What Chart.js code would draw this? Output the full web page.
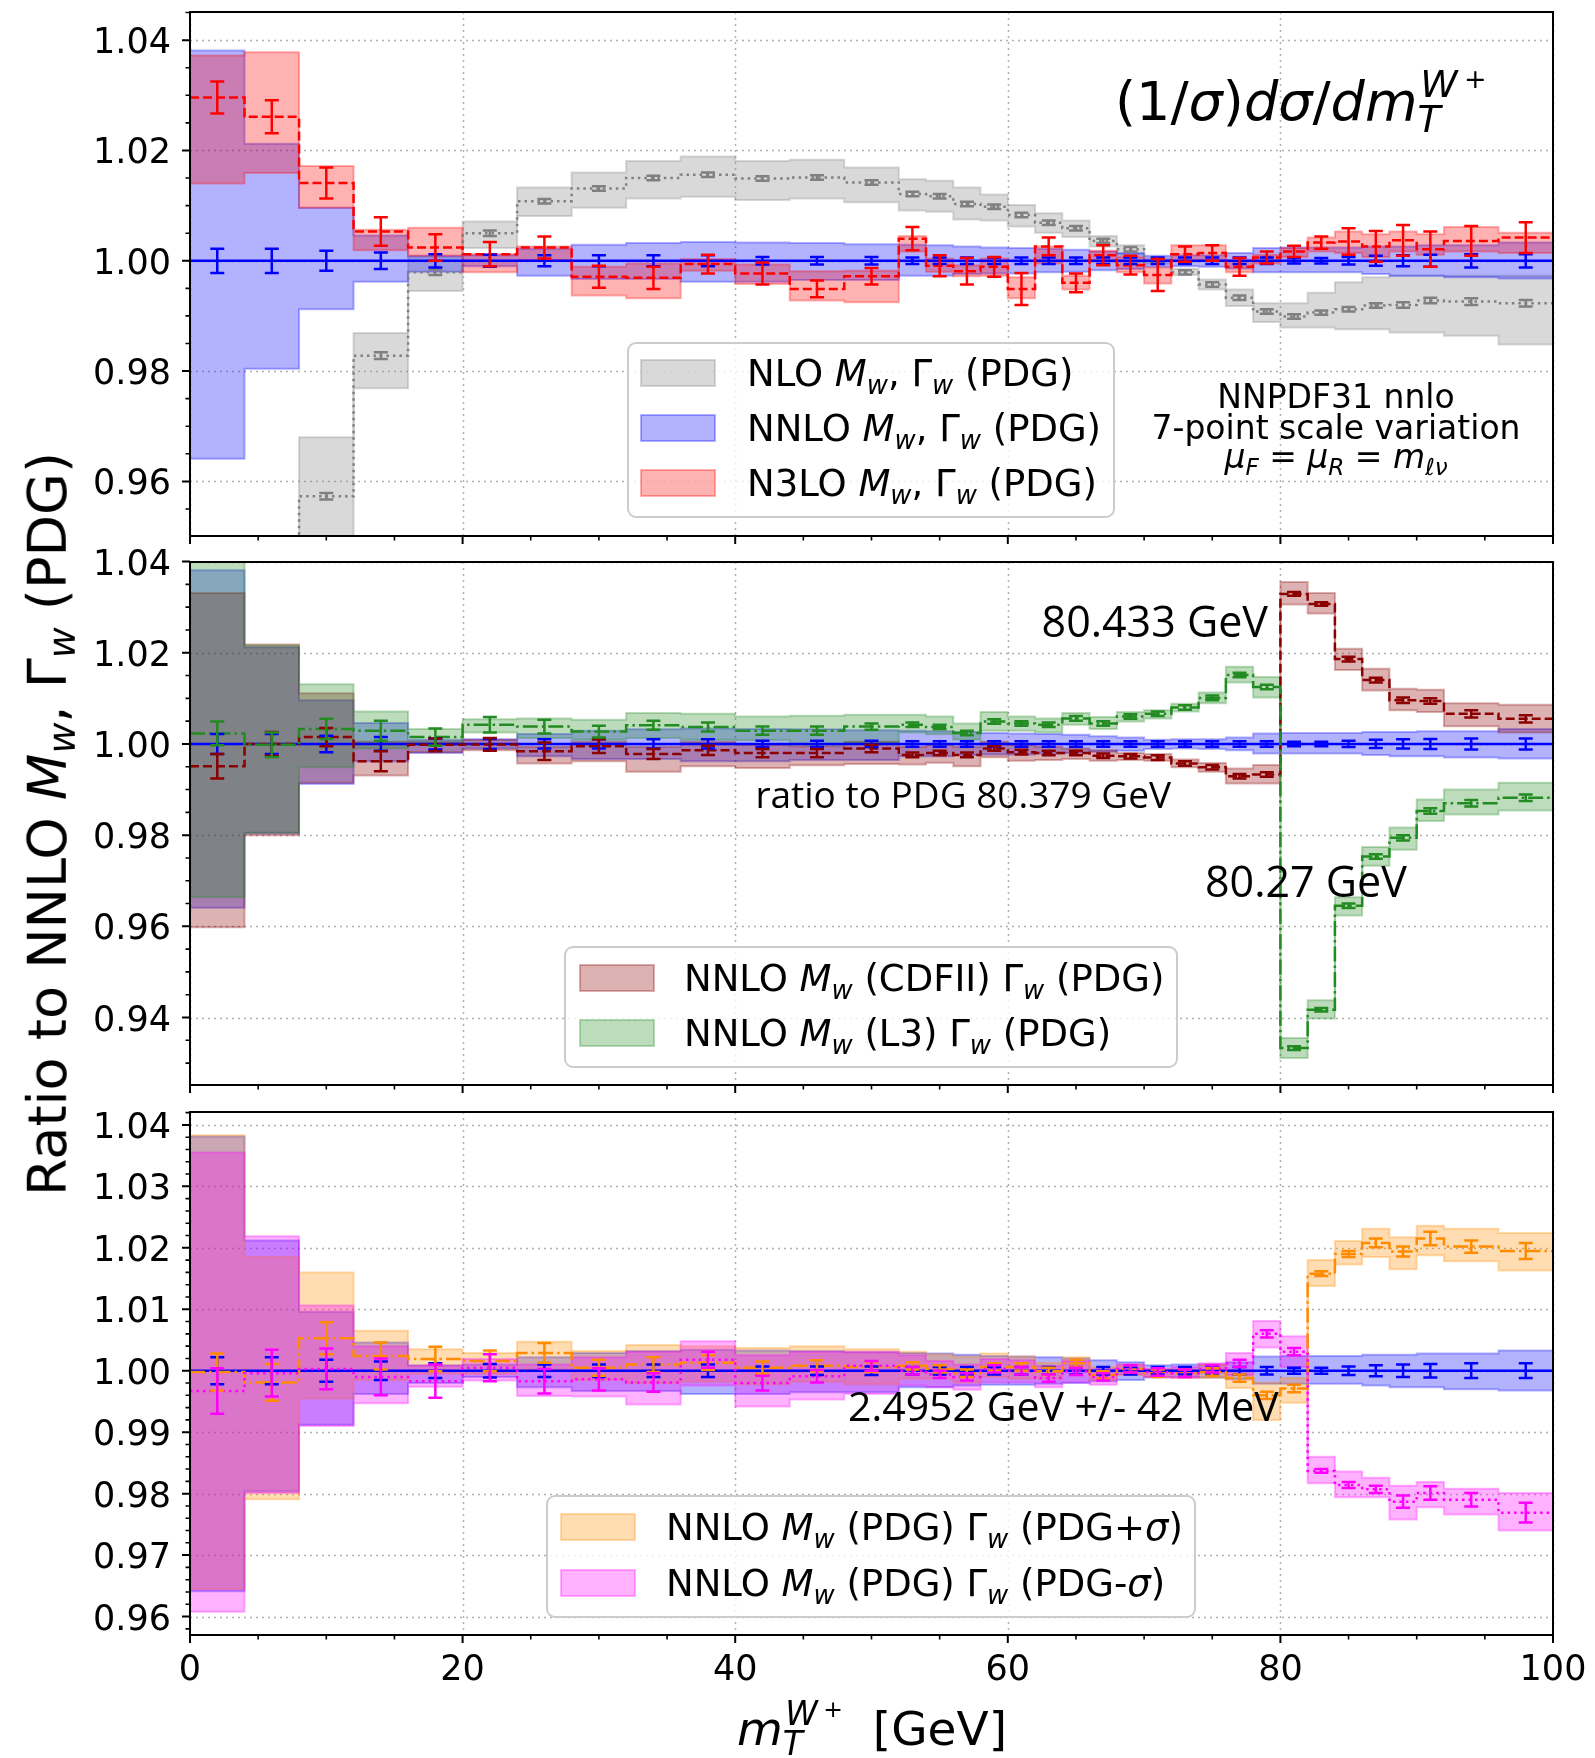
<!DOCTYPE html>
<html>
<head>
<meta charset="utf-8">
<script src="https://cdn.jsdelivr.net/npm/chart.js@4.4.1/dist/chart.umd.min.js"></script>
<style>
  body { margin: 0; background: #fff; }
  #wrap { position: relative; width: 1595px; height: 1758px; }
  #wrap canvas { position: absolute; left: 0; }
  #ytitle {
    position: absolute; left: 50px; top: 824px;
    transform: translate(-50%, -50%) rotate(-90deg);
    font-family: "DejaVu Sans"; font-size: 54px; white-space: nowrap; color: #000;
  }
  #ytitle sub { font-size: 0.7em; vertical-align: -0.25em; font-style: italic; }
</style>
</head>
<body>
<div id="wrap">
  <canvas id="c1" width="1595" height="560" style="top:0px"></canvas>
  <canvas id="c2" width="1595" height="560" style="top:548px"></canvas>
  <canvas id="c3" width="1595" height="660" style="top:1098px"></canvas>
  <div id="ytitle">Ratio to NNLO <i>M</i><sub>w</sub>, Γ<sub>w</sub> (PDG)</div>
</div>
<script>
// bin edges of the m_T histogram (GeV)
const binEdges = [0,4,8,12,16,20,24,28,32,36,40,44,48,52,54,56,58,60,62,64,66,68,70,72,74,76,78,80,82,84,86,88,90,92,96,100];

// tick labels
const xTickLabels = ['0','20','40','60','80','100'];
const yTicksTop = ['0.96','0.98','1.00','1.02','1.04'];
const yTicksMid = ['0.94','0.96','0.98','1.00','1.02','1.04'];
const yTicksBot = ['0.96','0.97','0.98','0.99','1.00','1.01','1.02','1.03','1.04'];

// NNLO M_w, G_w (PDG) - the reference, shown in every panel
const nnloVal = new Array(35).fill(1.0);
const nnloHi = [1.0381,1.0212,1.0096,1.0046,1.0009,1.0010,1.0022,1.0029,1.0032,1.0034,1.0033,1.0032,1.0030,
  1.0029,1.0028,1.0026,1.0024,1.0023,1.0022,1.0020,1.0017,1.0014,1.0009,1.0010,1.0010,1.0014,1.0023,1.0024,1.0024,1.0024,1.0026,1.0026,1.0028,
  1.0028,1.0033];
const nnloLo = [0.9641,0.9804,0.9912,0.9962,0.9980,0.9990,0.9973,0.9967,0.9967,0.9962,0.9962,0.9965,0.9965,
  0.9973,0.9973,0.9976,0.9977,0.9977,0.9979,0.9980,0.9983,0.9985,0.9989,0.9990,0.9989,0.9986,0.9979,0.9979,0.9979,0.9979,0.9976,0.9973,0.9973,
  0.9970,0.9968];
const nnloErr = [0.0022,0.0022,0.0018,0.0015,0.0012,0.0011,0.0010,0.0010,0.0010,0.0010,0.0007,0.0007,0.0007,
  0.0006,0.0006,0.0006,0.0006,0.0006,0.0006,0.0006,0.0006,0.0006,0.0006,0.0006,0.0006,0.0006,0.0006,0.0005,0.0005,0.0007,0.0009,0.0010,0.0011,
  0.0012,0.0012];

// top panel: NLO
const nloVal = [0.910,0.935,0.9573,0.9828,0.9979,1.0050,1.0108,1.0131,1.0150,1.0156,1.0149,1.0151,1.0142,
  1.0121,1.0117,1.0103,1.0098,1.0083,1.0069,1.0059,1.0036,1.0021,0.9999,0.9979,0.9957,0.9933,0.9908,0.9899,0.9906,0.9912,0.9919,0.9920,0.9928,
  0.9926,0.9923];
const nloHi = [0.925,0.945,0.968,0.9869,1.0007,1.0071,1.0133,1.0160,1.0181,1.0189,1.0181,1.0183,1.0169,
  1.0148,1.0145,1.0133,1.0120,1.0101,1.0086,1.0073,1.0045,1.0028,1.0004,0.9985,0.9966,0.9948,0.9923,0.9923,0.9942,0.9961,0.9970,0.9973,0.9973,
  0.9973,0.9973];
const nloLo = [0.895,0.925,0.940,0.9769,0.9945,1.0023,1.0081,1.0096,1.0113,1.0116,1.0110,1.0113,1.0106,
  1.0091,1.0089,1.0075,1.0073,1.0062,1.0051,1.0043,1.0026,1.0011,0.9994,0.9974,0.9948,0.9918,0.9889,0.9879,0.9879,0.9876,0.9876,0.9870,0.9870,
  0.9864,0.9848];
const nloErr = [0.0005,0.0005,0.0006,0.0006,0.0005,0.0005,0.0004,0.0004,0.0004,0.0004,0.0004,0.0004,0.0004,
  0.0004,0.0004,0.0004,0.0004,0.0004,0.0004,0.0004,0.0004,0.0004,0.0004,0.0004,0.0004,0.0004,0.0004,0.0004,0.0004,0.0004,0.0004,0.0005,0.0005,
  0.0006,0.0006];

// top panel: N3LO
const n3loVal = [1.0296,1.0261,1.0141,1.0053,1.0024,1.0012,1.0024,0.9971,0.9969,0.9994,0.9977,0.9949,0.9972,
  1.0040,0.9991,0.9981,0.9989,0.9949,1.0026,0.9960,1.0010,0.9992,0.9974,1.0012,1.0014,0.9989,1.0006,1.0017,1.0033,1.0035,1.0026,1.0037,1.0021,
  1.0036,1.0042];
const n3loHi = [1.0372,1.0378,1.0172,1.0056,1.0060,1.0012,1.0026,0.9989,0.9995,1.0003,0.9993,0.9981,0.9982,
  1.0045,1.0004,0.9992,1.0004,0.9970,1.0026,0.9973,1.0018,1.0007,0.9988,1.0028,1.0028,1.0001,1.0011,1.0023,1.0042,1.0053,1.0048,1.0053,1.0048,
  1.0061,1.0051];
const n3loLo = [1.0140,1.0159,1.0096,1.0019,1.0009,0.9979,1.0001,0.9937,0.9932,0.9982,0.9958,0.9928,0.9925,
  1.0017,0.9980,0.9972,0.9973,0.9932,0.9995,0.9948,0.9998,0.9979,0.9959,0.9999,1.0001,0.9979,0.9995,1.0007,1.0017,1.0014,1.0007,1.0017,1.0011,
  1.0017,1.0014];
const n3loErr = [0.0029,0.0030,0.0028,0.0026,0.0024,0.0022,0.0020,0.0020,0.0020,0.0017,0.0020,0.0015,0.0015,
  0.0021,0.0019,0.0024,0.0018,0.0029,0.0016,0.0017,0.0018,0.0017,0.0029,0.0014,0.0014,0.0016,0.0011,0.0010,0.0011,0.0024,0.0028,0.0028,0.0032,
  0.0027,0.0028];

// middle panel: M_w (CDFII)
const cdfVal = [0.9951,1.0000,1.0015,0.9962,0.9998,0.9999,0.9984,0.9995,0.9978,0.9986,0.9980,0.9980,0.9990,
  0.9976,0.9980,0.9976,0.9990,0.9982,0.9980,0.9980,0.9974,0.9973,0.9970,0.9957,0.9949,0.9929,0.9933,1.0329,1.0307,1.0186,1.0140,1.0096,1.0094,
  1.0066,1.0055];
const cdfHi = [1.0331,1.0218,1.0111,1.0005,1.0005,1.0009,0.9994,1.0005,0.9994,1.0005,0.9998,0.9995,1.0005,
  0.9994,0.9998,0.9994,1.0005,0.9998,0.9994,0.9990,0.9986,0.9980,0.9978,0.9966,0.9958,0.9946,0.9954,1.0355,1.0331,1.0209,1.0165,1.0121,1.0119,
  1.0089,1.0086];
const cdfLo = [0.9598,0.9800,0.9915,0.9931,0.9982,0.9986,0.9957,0.9962,0.9939,0.9951,0.9947,0.9953,0.9956,
  0.9955,0.9959,0.9951,0.9971,0.9963,0.9965,0.9967,0.9963,0.9965,0.9963,0.9949,0.9939,0.9913,0.9913,1.0306,1.0286,1.0162,1.0117,1.0074,1.0070,
  1.0039,1.0025];
const cdfErr = [0.0027,0.0026,0.0020,0.0022,0.0014,0.0014,0.0019,0.0015,0.0011,0.0010,0.0009,0.0009,0.0008,
  0.0005,0.0005,0.0005,0.0005,0.0005,0.0005,0.0005,0.0005,0.0005,0.0005,0.0005,0.0005,0.0005,0.0005,0.0004,0.0004,0.0005,0.0005,0.0006,0.0006,
  0.0008,0.0008];

// middle panel: M_w (L3)
const l3Val = [1.0023,0.9998,1.0033,1.0029,1.0015,1.0042,1.0038,1.0027,1.0041,1.0037,1.0029,1.0029,1.0038,
  1.0042,1.0037,1.0024,1.0049,1.0045,1.0042,1.0056,1.0045,1.0060,1.0066,1.0080,1.0101,1.0151,1.0125,0.9333,0.9417,0.9645,0.9753,0.9794,0.9853,
  0.9870,0.9882];
const l3Hi = [1.0420,1.0216,1.0131,1.0071,1.0033,1.0054,1.0056,1.0053,1.0068,1.0066,1.0060,1.0062,1.0064,
  1.0064,1.0060,1.0045,1.0070,1.0060,1.0056,1.0068,1.0059,1.0070,1.0074,1.0088,1.0113,1.0169,1.0147,0.9355,0.9438,0.9664,0.9774,0.9817,0.9878,
  0.9900,0.9915];
const l3Lo = [0.9664,0.9805,0.9949,0.9990,0.9998,1.0025,1.0013,1.0009,1.0013,1.0009,1.0008,0.9998,1.0002,
  1.0025,1.0021,1.0009,1.0029,1.0029,1.0025,1.0042,1.0033,1.0049,1.0056,1.0071,1.0089,1.0135,1.0102,0.9311,0.9398,0.9624,0.9733,0.9768,0.9831,
  0.9845,0.9854];
const l3Err = [0.0026,0.0027,0.0022,0.0022,0.0019,0.0017,0.0015,0.0013,0.0010,0.0010,0.0009,0.0009,0.0007,
  0.0005,0.0005,0.0005,0.0005,0.0005,0.0005,0.0005,0.0005,0.0005,0.0005,0.0005,0.0005,0.0005,0.0005,0.0004,0.0004,0.0005,0.0005,0.0006,0.0006,
  0.0007,0.0007];

// bottom panel: G_w (PDG+sigma)
const gupVal = [0.9998,0.9981,1.0053,1.0024,1.0019,1.0016,1.0029,1.0005,1.0010,1.0013,1.0005,1.0008,1.0006,
  1.0008,1.0003,0.9996,1.0006,1.0006,0.9999,1.0012,0.9993,1.0003,0.9996,0.9996,0.9998,0.9988,0.9960,0.9971,1.0158,1.0190,1.0208,1.0194,1.0215,
  1.0202,1.0195];
const gupHi = [1.0383,1.0185,1.0160,1.0065,1.0035,1.0029,1.0047,1.0032,1.0042,1.0040,1.0037,1.0040,1.0035,
  1.0031,1.0027,1.0023,1.0028,1.0023,1.0013,1.0022,1.0006,1.0010,1.0002,1.0003,1.0010,1.0001,0.9981,0.9988,1.0180,1.0211,1.0231,1.0217,1.0236,
  1.0231,1.0224];
const gupLo = [0.9645,0.9791,0.9955,0.9985,0.9995,0.9995,1.0002,0.9985,0.9980,0.9982,0.9978,0.9982,0.9978,
  0.9987,0.9987,0.9981,0.9990,0.9987,0.9987,0.9999,0.9985,0.9993,0.9990,0.9988,0.9988,0.9972,0.9920,0.9948,1.0138,1.0173,1.0185,1.0165,1.0188,
  1.0178,1.0163];
const gupErr = [0.0030,0.0030,0.0026,0.0022,0.0020,0.0017,0.0016,0.0013,0.0012,0.0012,0.0010,0.0009,0.0008,
  0.0006,0.0006,0.0006,0.0006,0.0006,0.0006,0.0006,0.0006,0.0006,0.0006,0.0006,0.0006,0.0006,0.0006,0.0006,0.0004,0.0005,0.0007,0.0008,0.0011,
  0.0010,0.0013];

// bottom panel: G_w (PDG-sigma)
const gdnVal = [0.9967,0.9996,1.0003,0.9990,0.9983,1.0005,0.9983,0.9986,0.9981,1.0018,0.9980,0.9991,1.0008,
  1.0000,0.9994,0.9990,1.0003,1.0000,0.9988,0.9999,0.9990,1.0003,0.9998,0.9996,1.0003,1.0012,1.0060,1.0031,0.9837,0.9814,0.9807,0.9787,0.9801,
  0.9790,0.9769];
const gdnHi = [1.0355,1.0219,1.0106,1.0040,1.0008,1.0019,1.0010,1.0022,1.0031,1.0048,1.0025,1.0031,1.0031,
  1.0025,1.0016,1.0010,1.0019,1.0017,1.0008,1.0016,1.0003,1.0010,1.0003,1.0006,1.0012,1.0029,1.0081,1.0056,0.9860,0.9836,0.9826,0.9813,0.9819,
  0.9808,0.9801];
const gdnLo = [0.9608,0.9801,0.9910,0.9947,0.9974,0.9984,0.9959,0.9958,0.9945,0.9976,0.9942,0.9953,0.9962,
  0.9976,0.9973,0.9969,0.9981,0.9981,0.9973,0.9981,0.9977,0.9994,0.9990,0.9988,0.9997,0.9993,1.0038,1.0006,0.9817,0.9794,0.9794,0.9758,0.9778,
  0.9766,0.9740];
const gdnErr = [0.0037,0.0038,0.0033,0.0030,0.0027,0.0022,0.0020,0.0018,0.0015,0.0013,0.0012,0.0010,0.0008,
  0.0006,0.0006,0.0006,0.0006,0.0006,0.0006,0.0006,0.0006,0.0006,0.0006,0.0006,0.0006,0.0006,0.0006,0.0006,0.0003,0.0005,0.0006,0.0010,0.0011,
  0.0011,0.0016];

// colours (line colour, rgb for the alpha bands)
const BLUE = ['#0000ff', '0,0,255'];
const GRAY = ['#808080', '128,128,128'];
const RED = ['#ff0000', '255,0,0'];
const DRED = ['#8b0000', '139,0,0'];
const GREEN = ['#228b22', '34,139,34'];
const ORANGE = ['#ff8c00', '255,140,0'];
const MAGENTA = ['#ff00ff', '255,0,255'];

const SOLID = [], DASHED = [9, 4], DOTTED = [2.5, 4], DASHDOT = [15, 4, 2.5, 4];
const FAM = '"DejaVu Sans"';

const centers = binEdges.slice(0, -1).map((e, i) => (e + binEdges[i + 1]) / 2);

// histogram step points from per-bin values
function steps(vals) {
  const pts = [];
  vals.forEach((v, i) => {
    pts.push({ x: binEdges[i], y: v });
    pts.push({ x: binEdges[i + 1], y: v });
  });
  return pts;
}

// first listed band is painted first (underneath), like matplotlib
function bandSets(hi, lo, col, order) {
  const c = `rgba(${col[1]},0.3)`;
  return [
    { data: steps(hi), borderColor: c, backgroundColor: c, borderWidth: 2, fill: '+1', pointRadius: 0, order },
    { data: steps(lo), borderColor: c, backgroundColor: c, borderWidth: 2, fill: false, pointRadius: 0, order }
  ];
}

function lineSet(vals, col, dash, order) {
  return { data: steps(vals), borderColor: col[0], borderWidth: 2.5, borderDash: dash, fill: false, pointRadius: 0, order };
}

// text with italic / sub / superscript parts
function partStyle(st, size) {
  switch (st) {
    case 'i': return { f: `italic ${size}px ${FAM}`, dy: 0, adv: true, pre: 0 };
    case 'sub': return { f: `italic ${size * 0.7}px ${FAM}`, dy: size * 0.22, adv: true, pre: 0 };
    case 'subk': return { f: `italic ${size * 0.7}px ${FAM}`, dy: size * 0.22, adv: false, pre: 0 };
    case 'sup': return { f: `italic ${size * 0.7}px ${FAM}`, dy: -size * 0.42, adv: true, pre: size * 0.05 };
    case 'sup2': return { f: `${size * 0.5}px ${FAM}`, dy: -size * 0.6, adv: true, pre: size * 0.12 };
    default: return { f: `${size}px ${FAM}`, dy: 0, adv: true, pre: 0 };
  }
}

function drawRich(ctx, parts, x, y, size, align) {
  let total = 0;
  parts.forEach(([t, st]) => {
    const s = partStyle(st, size);
    ctx.font = s.f;
    if (s.adv) total += s.pre + ctx.measureText(t).width;
  });
  let cx = align === 'center' ? x - total / 2 : align === 'right' ? x - total : x;
  ctx.textAlign = 'left';
  ctx.textBaseline = 'alphabetic';
  parts.forEach(([t, st]) => {
    const s = partStyle(st, size);
    ctx.font = s.f;
    cx += s.pre;
    ctx.fillText(t, cx, y + s.dy);
    if (s.adv) cx += ctx.measureText(t).width;
  });
}

function drawErr(ctx, x, y, vals, errs, color) {
  ctx.strokeStyle = color;
  ctx.lineWidth = 2.5;
  ctx.setLineDash([]);
  vals.forEach((v, i) => {
    const px = x.getPixelForValue(centers[i]);
    const y1 = y.getPixelForValue(v - errs[i]);
    const y2 = y.getPixelForValue(v + errs[i]);
    ctx.beginPath();
    ctx.moveTo(px, y1); ctx.lineTo(px, y2);
    ctx.moveTo(px - 7, y1); ctx.lineTo(px + 7, y1);
    ctx.moveTo(px - 7, y2); ctx.lineTo(px + 7, y2);
    ctx.stroke();
  });
}

function drawLegend(ctx, L) {
  ctx.save();
  ctx.beginPath();
  ctx.roundRect(L.x, L.y, L.w, L.h, 8);
  ctx.fillStyle = 'rgba(255,255,255,0.8)';
  ctx.fill();
  ctx.strokeStyle = '#cccccc';
  ctx.lineWidth = 2;
  ctx.stroke();
  L.rows.forEach(r => {
    const c = `rgba(${r.col[1]},0.3)`;
    ctx.fillStyle = c;
    ctx.fillRect(L.px, r.cy - 13, 74, 26);
    ctx.strokeStyle = c;
    ctx.lineWidth = 2;
    ctx.strokeRect(L.px, r.cy - 13, 74, 26);
    ctx.fillStyle = '#000';
    drawRich(ctx, r.parts, L.tx, r.cy + 13, 37, 'left');
  });
  ctx.restore();
}

function makeDecor(p) {
  return {
    id: 'decor',
    beforeDatasetsDraw(chart) {
      const { ctx, chartArea: a, scales: { x, y } } = chart;
      ctx.save();
      ctx.strokeStyle = '#b0b0b0';
      ctx.lineWidth = 1.5;
      ctx.setLineDash([2, 4]);
      ctx.beginPath();
      xTickLabels.forEach(s => {
        const px = Math.round(x.getPixelForValue(parseFloat(s))) + 0.5;
        ctx.moveTo(px, a.top); ctx.lineTo(px, a.bottom);
      });
      p.yLabels.forEach(s => {
        const py = Math.round(y.getPixelForValue(parseFloat(s))) + 0.5;
        ctx.moveTo(a.left, py); ctx.lineTo(a.right, py);
      });
      ctx.stroke();
      ctx.restore();
    },
    afterDatasetsDraw(chart) {
      const { ctx, chartArea: a, scales: { x, y } } = chart;
      ctx.save();
      ctx.beginPath();
      ctx.rect(a.left, a.top, a.right - a.left, a.bottom - a.top);
      ctx.clip();
      p.errs.forEach(e => drawErr(ctx, x, y, e[0], e[1], e[2]));
      ctx.restore();

      ctx.save();
      ctx.setLineDash([]);
      ctx.strokeStyle = '#000';
      // ticks
      const majY = p.yLabels.map(parseFloat);
      ctx.lineWidth = 2;
      ctx.beginPath();
      majY.forEach(v => {
        const py = y.getPixelForValue(v);
        ctx.moveTo(a.left - 8, py); ctx.lineTo(a.left, py);
      });
      xTickLabels.forEach(s => {
        const px = x.getPixelForValue(parseFloat(s));
        ctx.moveTo(px, a.bottom); ctx.lineTo(px, a.bottom + 8);
      });
      ctx.stroke();
      ctx.lineWidth = 1.6;
      ctx.beginPath();
      const k0 = Math.ceil(p.yMin / p.yMinor - 1e-6), k1 = Math.floor(p.yMax / p.yMinor + 1e-6);
      for (let k = k0; k <= k1; k++) {
        const v = k * p.yMinor;
        if (majY.some(m => Math.abs(m - v) < 1e-6)) continue;
        const py = y.getPixelForValue(v);
        ctx.moveTo(a.left - 4.5, py); ctx.lineTo(a.left, py);
      }
      for (let v = 0; v <= 100; v += 5) {
        if (v % 20 === 0) continue;
        const px = x.getPixelForValue(v);
        ctx.moveTo(px, a.bottom); ctx.lineTo(px, a.bottom + 4.5);
      }
      ctx.stroke();
      // frame
      ctx.lineWidth = 2;
      ctx.strokeRect(a.left, a.top, a.right - a.left, a.bottom - a.top);
      // tick labels
      ctx.fillStyle = '#000';
      ctx.font = `35px ${FAM}`;
      ctx.textAlign = 'right';
      ctx.textBaseline = 'alphabetic';
      p.yLabels.forEach(s => ctx.fillText(s, a.left - 19, y.getPixelForValue(parseFloat(s)) + 13));
      if (p.xLabels) {
        ctx.textAlign = 'center';
        xTickLabels.forEach(s => ctx.fillText(s, x.getPixelForValue(parseFloat(s)), a.bottom + 45));
      }
      // legend and annotations in page coordinates
      ctx.translate(0, -p.top);
      drawLegend(ctx, p.legend);
      p.texts(ctx);
      ctx.restore();
    }
  };
}

function makePanel(p) {
  const datasets = [];
  p.bands.forEach((b, i) => datasets.push(...bandSets(b[0], b[1], b[2], 30 - i)));
  p.lines.forEach((l, i) => datasets.push(lineSet(l[0], l[1], l[2], 10 - i)));
  return new Chart(document.getElementById(p.id), {
    type: 'line',
    data: { datasets },
    options: {
      responsive: false,
      maintainAspectRatio: false,
      animation: false,
      devicePixelRatio: 1,
      events: [],
      layout: { padding: { left: 190, right: 42, top: p.padTop, bottom: p.padBottom } },
      plugins: { legend: { display: false }, tooltip: { enabled: false }, filler: { propagate: false } },
      scales: {
        x: { type: 'linear', min: 0, max: 100, display: false },
        y: { type: 'linear', min: p.yMin, max: p.yMax, display: false }
      }
    },
    plugins: [makeDecor(p)]
  });
}

// top panel
makePanel({
  id: 'c1', top: 0, padTop: 12, padBottom: 24,
  yMin: 0.9501, yMax: 1.0451, yMinor: 0.005, yLabels: yTicksTop, xLabels: false,
  bands: [[nloHi, nloLo, GRAY], [nnloHi, nnloLo, BLUE], [n3loHi, n3loLo, RED]],
  lines: [[nloVal, GRAY, DOTTED], [nnloVal, BLUE, SOLID], [n3loVal, RED, DASHED]],
  errs: [[nloVal, nloErr, GRAY[0]], [nnloVal, nnloErr, BLUE[0]], [n3loVal, n3loErr, RED[0]]],
  legend: {
    x: 628, y: 343, w: 486, h: 174, px: 641, tx: 747,
    rows: [
      { cy: 373, col: GRAY, parts: [['NLO ', 'n'], ['M', 'i'], ['w', 'sub'], [', Γ', 'n'], ['w', 'sub'], [' (PDG)', 'n']] },
      { cy: 428, col: BLUE, parts: [['NNLO ', 'n'], ['M', 'i'], ['w', 'sub'], [', Γ', 'n'], ['w', 'sub'], [' (PDG)', 'n']] },
      { cy: 483, col: RED, parts: [['N3LO ', 'n'], ['M', 'i'], ['w', 'sub'], [', Γ', 'n'], ['w', 'sub'], [' (PDG)', 'n']] }
    ]
  },
  texts(ctx) {
    ctx.fillStyle = '#000';
    drawRich(ctx, [['(1/', 'n'], ['σ', 'i'], [')', 'n'], ['dσ', 'i'], ['/', 'n'], ['dm', 'i'], ['T', 'subk'], ['W', 'sup'], ['+', 'sup2']], 1115, 120, 54, 'left');
    ctx.font = `33px ${FAM}`;
    ctx.textAlign = 'center';
    ctx.fillText('NNPDF31 nnlo', 1336, 408);
    ctx.fillText('7-point scale variation', 1336, 439);
    drawRich(ctx, [['μ', 'i'], ['F', 'sub'], [' = ', 'n'], ['μ', 'i'], ['R', 'sub'], [' = ', 'n'], ['m', 'i'], ['ℓν', 'sub']], 1336, 468, 33, 'center');
  }
});

// middle panel
makePanel({
  id: 'c2', top: 548, padTop: 14, padBottom: 23,
  yMin: 0.9252, yMax: 1.0399, yMinor: 0.005, yLabels: yTicksMid, xLabels: false,
  bands: [[nnloHi, nnloLo, BLUE], [cdfHi, cdfLo, DRED], [l3Hi, l3Lo, GREEN]],
  lines: [[nnloVal, BLUE, SOLID], [cdfVal, DRED, DASHED], [l3Val, GREEN, DASHDOT]],
  errs: [[nnloVal, nnloErr, BLUE[0]], [cdfVal, cdfErr, DRED[0]], [l3Val, l3Err, GREEN[0]]],
  legend: {
    x: 565, y: 947, w: 612, h: 120, px: 580, tx: 684,
    rows: [
      { cy: 978, col: DRED, parts: [['NNLO ', 'n'], ['M', 'i'], ['w', 'sub'], [' (CDFII) Γ', 'n'], ['w', 'sub'], [' (PDG)', 'n']] },
      { cy: 1033, col: GREEN, parts: [['NNLO ', 'n'], ['M', 'i'], ['w', 'sub'], [' (L3) Γ', 'n'], ['w', 'sub'], [' (PDG)', 'n']] }
    ]
  },
  texts(ctx) {
    ctx.fillStyle = '#000';
    ctx.font = '43px "Open Sans"';
    ctx.textAlign = 'right';
    ctx.fillText('80.433 GeV', 1268, 637);
    ctx.font = '37px "Open Sans"';
    ctx.fillText('ratio to PDG 80.379 GeV', 1171, 808);
    ctx.font = '43px "Open Sans"';
    ctx.textAlign = 'left';
    ctx.fillText('80.27 GeV', 1205, 897);
  }
});

// bottom panel
makePanel({
  id: 'c3', top: 1098, padTop: 14, padBottom: 123,
  yMin: 0.9570, yMax: 1.0421, yMinor: 0.002, yLabels: yTicksBot, xLabels: true,
  bands: [[nnloHi, nnloLo, BLUE], [gupHi, gupLo, ORANGE], [gdnHi, gdnLo, MAGENTA]],
  lines: [[nnloVal, BLUE, SOLID], [gupVal, ORANGE, DASHDOT], [gdnVal, MAGENTA, DOTTED]],
  errs: [[nnloVal, nnloErr, BLUE[0]], [gupVal, gupErr, ORANGE[0]], [gdnVal, gdnErr, MAGENTA[0]]],
  legend: {
    x: 547, y: 1496, w: 648, h: 121, px: 561, tx: 666,
    rows: [
      { cy: 1527, col: ORANGE, parts: [['NNLO ', 'n'], ['M', 'i'], ['w', 'sub'], [' (PDG) Γ', 'n'], ['w', 'sub'], [' (PDG+', 'n'], ['σ', 'i'], [')', 'n']] },
      { cy: 1583, col: MAGENTA, parts: [['NNLO ', 'n'], ['M', 'i'], ['w', 'sub'], [' (PDG) Γ', 'n'], ['w', 'sub'], [' (PDG-', 'n'], ['σ', 'i'], [')', 'n']] }
    ]
  },
  texts(ctx) {
    ctx.fillStyle = '#000';
    ctx.font = '41px "Open Sans"';
    ctx.textAlign = 'left';
    ctx.fillText('2.4952 GeV +/- 42 MeV', 848, 1421);
    drawRich(ctx, [['m', 'i'], ['T', 'subk'], ['W', 'sup'], ['+', 'sup2'], ['  [GeV]', 'n']], 737, 1745, 47, 'left');
  }
});
</script>
</body>
</html>
